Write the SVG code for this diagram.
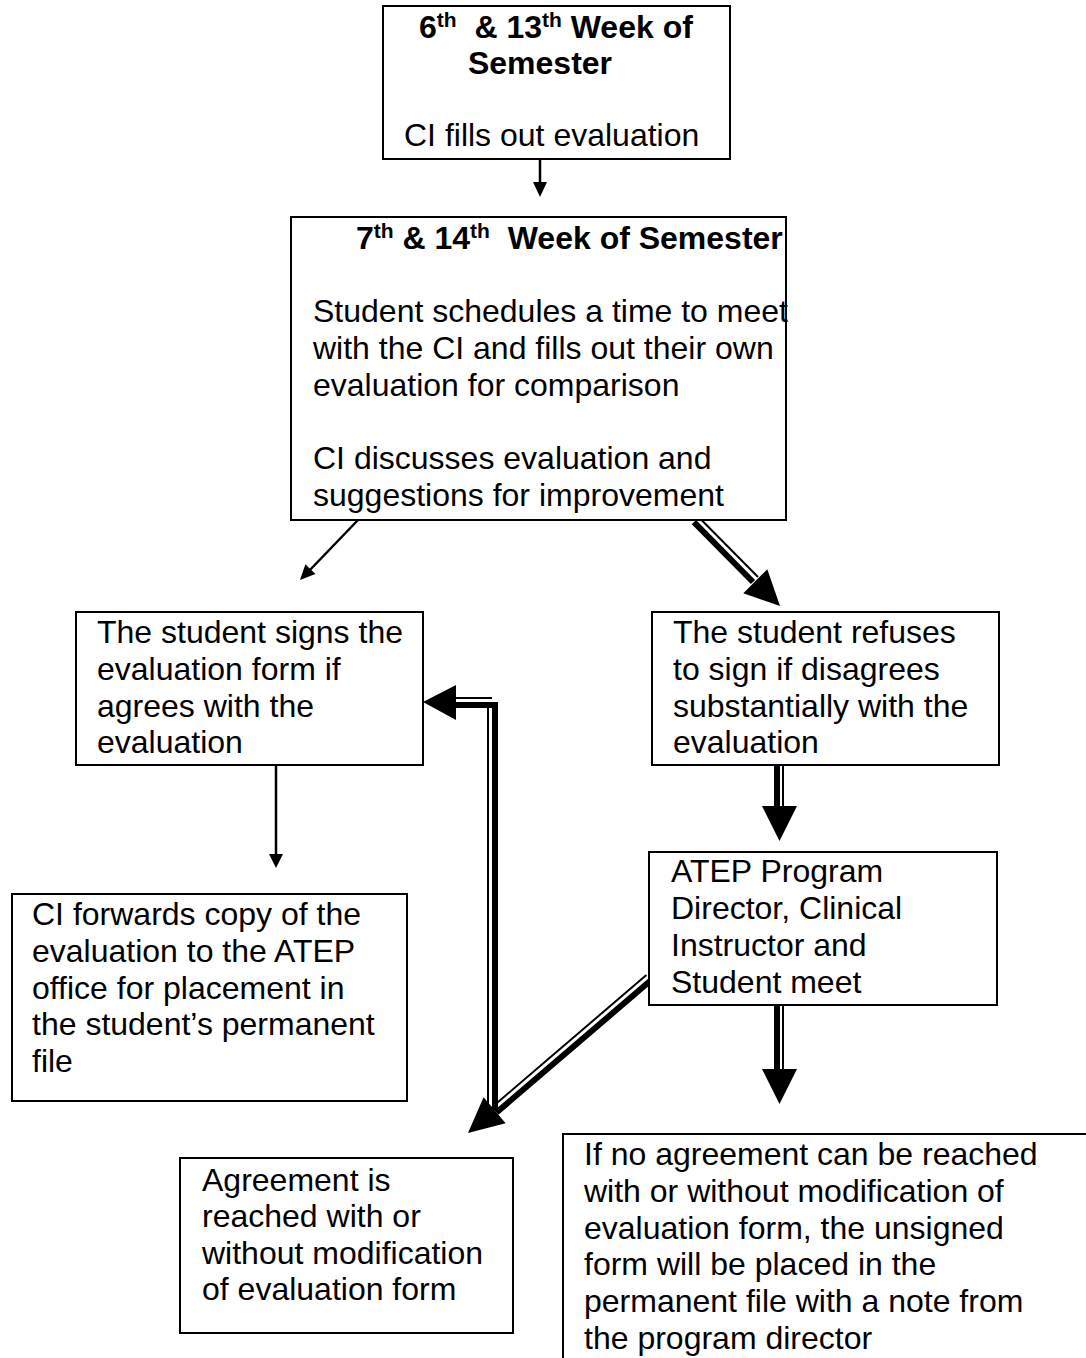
<svg xmlns="http://www.w3.org/2000/svg" width="1086" height="1358" viewBox="0 0 1086 1358">
<style>
.box{fill:#fff;stroke:#000;stroke-width:2}
text{font-family:"Liberation Sans",Arial,sans-serif;font-size:32px;fill:#000}
.b{font-weight:bold}
.sup{font-size:21px}
.ln{stroke:#000;stroke-width:2.5;fill:none}
.thick{stroke:#000;stroke-width:6;fill:none;stroke-linejoin:miter}
.thin{stroke:#000;stroke-width:2;fill:none}
.head{fill:#000}
</style>
<rect width="1086" height="1358" fill="#fff"/>
<g id="connectors">
  <!-- top to box2 -->
  <line class="ln" x1="540" y1="159" x2="540" y2="185"/>
  <polygon class="head" points="533,182 547,182 540,197"/>
  <!-- box2 to signs -->
  <line class="ln" x1="358" y1="520" x2="308" y2="572"/>
  <polygon class="head" points="300,580 315.4,574.1 305.4,564.3"/>
  <!-- box2 to refuse (compound) -->
  <line class="thin" x1="698.8" y1="517.2" x2="758" y2="577"/>
  <line class="thick" x1="693.9" y1="522.1" x2="753" y2="582"/>
  <polygon class="head" points="780,606 767.3,569.3 743.3,593.3"/>
  <!-- signs to CI forwards -->
  <line class="ln" x1="276" y1="765" x2="276" y2="858"/>
  <polygon class="head" points="269,854 283,854 276,868"/>
  <!-- refuse to ATEP -->
  <line class="thick" x1="777" y1="765" x2="777" y2="810"/>
  <line class="thin" x1="783" y1="765" x2="783" y2="810"/>
  <polygon class="head" points="762,806 797,806 779.5,841"/>
  <!-- ATEP down -->
  <line class="thick" x1="777" y1="1005" x2="777" y2="1072"/>
  <line class="thin" x1="783" y1="1005" x2="783" y2="1072"/>
  <polygon class="head" points="762,1069 797,1069 779.5,1104"/>
  <!-- bent connector back to signs -->
  <polyline class="thick" points="495,1110 495,705 452,705"/>
  <line class="thin" x1="488" y1="708" x2="488" y2="1108"/>
  <line class="thin" x1="452" y1="698" x2="492" y2="698"/>
  <polygon class="head" points="423,702 456,685 456,720"/>
  <!-- ATEP to agreement (compound) -->
  <line class="thin" x1="646.4" y1="975" x2="492" y2="1107.2"/>
  <line class="thick" x1="650.9" y1="980.3" x2="496.5" y2="1112.5"/>
  <polygon class="head" points="468,1133 505.6,1123.2 483.6,1097.3"/>
</g>
<g id="n1">
  <rect class="box" x="383" y="6" width="347" height="153"/>
  <text class="b" x="419" y="38" xml:space="preserve">6<tspan class="sup" dy="-11">th</tspan><tspan dy="11">  &amp; 13</tspan><tspan class="sup" dy="-11">th</tspan><tspan dy="11"> Week of</tspan></text>
  <text class="b" x="540" y="74" text-anchor="middle">Semester</text>
  <text x="404" y="146">CI fills out evaluation</text>
</g>
<g id="n2">
  <rect class="box" x="291" y="217" width="495" height="303"/>
  <text class="b" x="356" y="249" xml:space="preserve">7<tspan class="sup" dy="-11">th</tspan><tspan dy="11"> &amp; 14</tspan><tspan class="sup" dy="-11">th</tspan><tspan dy="11">  Week of Semester</tspan></text>
  <text x="313" y="322">Student schedules a time to meet</text>
  <text x="313" y="359">with the CI and fills out their own</text>
  <text x="313" y="396">evaluation for comparison</text>
  <text x="313" y="469">CI discusses evaluation and</text>
  <text x="313" y="506">suggestions for improvement</text>
</g>
<g id="n3">
  <rect class="box" x="76" y="612" width="347" height="153"/>
  <text x="97" y="643">The student signs the</text>
  <text x="97" y="680">evaluation form if</text>
  <text x="97" y="717">agrees with the</text>
  <text x="97" y="753">evaluation</text>
</g>
<g id="n4">
  <rect class="box" x="652" y="612" width="347" height="153"/>
  <text x="673" y="643">The student refuses</text>
  <text x="673" y="680">to sign if disagrees</text>
  <text x="673" y="717">substantially with the</text>
  <text x="673" y="753">evaluation</text>
</g>
<g id="n5">
  <rect class="box" x="12" y="894" width="395" height="207"/>
  <text x="32" y="925">CI forwards copy of the</text>
  <text x="32" y="962">evaluation to the ATEP</text>
  <text x="32" y="999">office for placement in</text>
  <text x="32" y="1035">the student’s permanent</text>
  <text x="32" y="1072">file</text>
</g>
<g id="n6">
  <rect class="box" x="649" y="852" width="348" height="153"/>
  <text x="671" y="882">ATEP Program</text>
  <text x="671" y="919">Director, Clinical</text>
  <text x="671" y="956">Instructor and</text>
  <text x="671" y="993">Student meet</text>
</g>
<g id="n7">
  <rect class="box" x="180" y="1158" width="333" height="175"/>
  <text x="202" y="1191">Agreement is</text>
  <text x="202" y="1227">reached with or</text>
  <text x="202" y="1264">without modification</text>
  <text x="202" y="1300">of evaluation form</text>
</g>
<g id="n8">
  <rect class="box" x="563" y="1134" width="600" height="300"/>
  <text x="584" y="1165">If no agreement can be reached</text>
  <text x="584" y="1202">with or without modification of</text>
  <text x="584" y="1239">evaluation form, the unsigned</text>
  <text x="584" y="1275">form will be placed in the</text>
  <text x="584" y="1312">permanent file with a note from</text>
  <text x="584" y="1349">the program director</text>
</g>
</svg>
